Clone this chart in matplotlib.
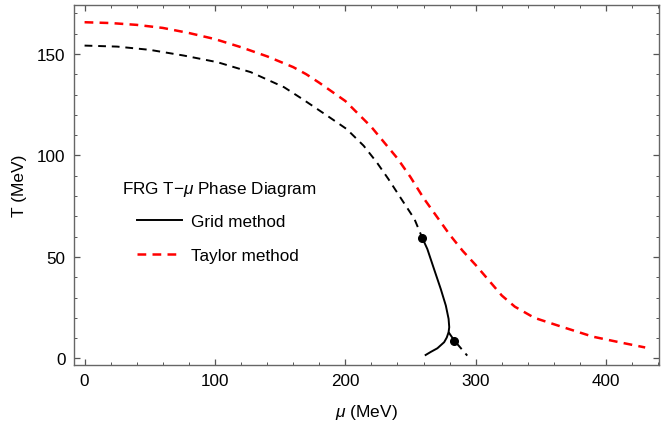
import numpy as np
import matplotlib
matplotlib.use("Agg")
import matplotlib.pyplot as plt
from matplotlib.lines import Line2D
from matplotlib.ticker import MultipleLocator

plt.rcParams['font.family'] = ['Liberation Sans', 'DejaVu Sans']
plt.rcParams['mathtext.fontset'] = 'custom'
plt.rcParams['mathtext.it'] = 'Liberation Sans:italic'
plt.rcParams['mathtext.rm'] = 'Liberation Sans'

# Taylor method (red dashed)
taylor_mu = [0, 20, 40, 60, 80, 100, 120, 140, 160, 170, 180, 200, 220, 240,
             250, 260, 270, 280, 290, 300, 310, 320, 330, 345, 365, 390, 410, 430]
taylor_T = [165.6, 165.2, 164.3, 162.8, 160.3, 157.3, 153.3, 148.8, 143.5, 140.0,
            135.8, 126.8, 114.0, 98.5, 89.3, 79.0, 70.0, 61.0, 53.0, 46.0, 38.5,
            31.0, 25.5, 20.0, 15.8, 10.7, 8.0, 5.4]

# Grid method, crossover part (black dashed)
grid_cross_mu = [0, 25, 50, 76, 102, 127.5, 153, 167, 186, 201, 214, 224, 233,
                 242, 253, 259]
grid_cross_T = [154.1, 153.6, 152.0, 149.2, 145.9, 141.0, 133.6, 127.8, 119.6,
                113.0, 104.8, 96.7, 88.4, 79.5, 68.7, 59.4]

# Grid method, first-order part (black solid)
grid_first_mu = [259, 262.9, 268, 273.2, 277.1, 279.2, 279.7, 279.2, 277.8,
                 275.8, 270.6, 265.5, 261.6]
grid_first_T = [59.4, 53.9, 44.1, 34.2, 26.0, 19.5, 15.4, 12.9, 10.3, 8.0, 5.0,
                3.2, 1.7]

# Grid method, low-T branch (black dashed)
grid_low_mu = [279.2, 283.6, 293.5]
grid_low_T = [12.9, 8.8, 1.4]

# critical / end points
cep_mu = [259, 283.6]
cep_T = [59.4, 8.8]


def main():
    fig = plt.figure(figsize=(6.65, 4.27), dpi=100)
    ax = fig.add_axes([0.1113, 0.143, 0.8795, 0.8430])

    ax.plot(grid_cross_mu, grid_cross_T, color='black', lw=1.4, ls=(0, (4, 3)))
    ax.plot(grid_first_mu, grid_first_T, color='black', lw=1.4)
    ax.plot(grid_low_mu, grid_low_T, color='black', lw=1.4, ls=(0, (4, 3)))
    ax.plot(taylor_mu, taylor_T, color='red', lw=1.8, ls=(0, (3.5, 2.5)))
    ax.plot(cep_mu, cep_T, 'o', color='black', ms=5.5)

    ax.set_xlim(-8.1, 440.5)
    ax.set_ylim(-3.2, 174.1)
    ax.xaxis.set_major_locator(MultipleLocator(100))
    ax.xaxis.set_minor_locator(MultipleLocator(20))
    ax.yaxis.set_major_locator(MultipleLocator(50))
    ax.yaxis.set_minor_locator(MultipleLocator(10))
    ax.tick_params(which='both', direction='in', top=True, right=True,
                   color='#555555', labelsize=12.3, pad=6)
    ax.tick_params(which='major', length=4, width=0.9)
    ax.tick_params(which='minor', length=2, width=0.7)
    for s in ax.spines.values():
        s.set_color('#666666')
        s.set_linewidth(1.0)

    ax.set_xlabel(r'$\mu$ (MeV)', fontsize=12.5, labelpad=10)
    ax.set_ylabel('T (MeV)', fontsize=12.5, labelpad=7)

    # legend title and entries
    ax.text(0.082, 0.489, r'FRG T$-\mu$ Phase Diagram', transform=ax.transAxes,
            fontsize=12.3, va='center', ha='left')
    handles = [Line2D([], [], color='black', lw=1.4),
               Line2D([], [], color='red', lw=1.8, ls=(0, (3.5, 2.5)))]
    ax.legend(handles, ['Grid method', 'Taylor method'], frameon=False,
              fontsize=12.3, handlelength=2.6, handletextpad=0.55,
              labelspacing=1.08, borderpad=0, borderaxespad=0,
              loc='upper left', bbox_to_anchor=(0.108, 0.419))

    fig.savefig('out.png', dpi=100)


if __name__ == "__main__":
    main()
